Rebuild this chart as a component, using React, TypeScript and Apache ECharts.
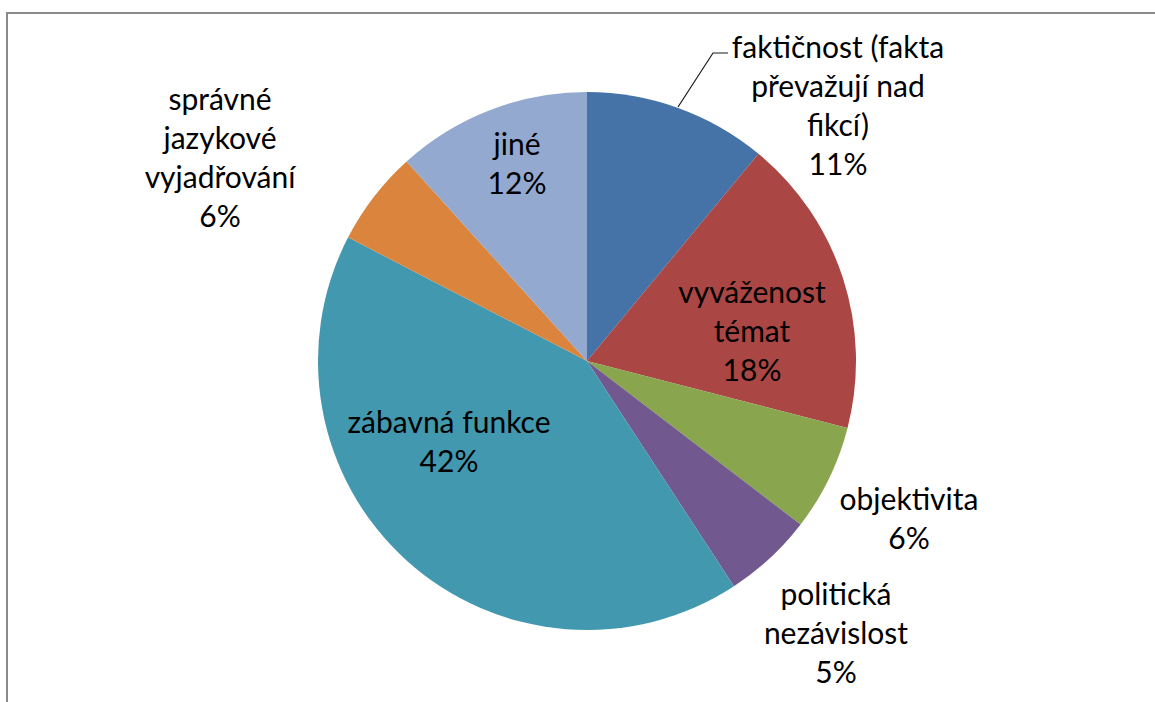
import React, { useEffect, useRef } from "react";
import * as echarts from "echarts";

const categories = [
  "faktičnost (fakta\npřevažují nad\nfikcí)",
  "vyváženost\ntémat",
  "objektivita",
  "politická\nnezávislost",
  "zábavná funkce",
  "správné\njazykové\nvyjadřování",
  "jiné",
];
const values = [11.0, 18.0, 6.4, 5.4, 41.8, 5.7, 11.7];
const colors = ["#4572A7", "#AA4643", "#89A54E", "#71588F", "#4198AF", "#DB843D", "#93A9CF"];
// label anchor positions (block centers) for each slice
const labelPos: [number, number][] = [
  [838, 104],
  [752, 330],
  [909, 517],
  [836, 632],
  [449, 440],
  [220, 156],
  [517, 162],
];
const leaderLine: number[][] = [
  [678, 107],
  [713, 53],
  [728, 53],
];

export default function App() {
  const ref = useRef<HTMLDivElement>(null);
  useEffect(() => {
    if (!ref.current) return;
    const chart = echarts.init(ref.current, undefined, { renderer: "svg" });
    const data = categories.map((name, i) => ({
      name,
      value: values[i],
      itemStyle: { color: colors[i] },
      labelLine: { show: i === 0 },
    }));
    chart.setOption({
      animation: false,
      graphic: [
        {
          type: "rect",
          shape: { x: 7, y: 13, width: 1300, height: 900 },
          style: { fill: "none", stroke: "#8a8a8a", lineWidth: 2 },
          silent: true,
        },
      ],
      series: [
        {
          type: "pie",
          center: [587, 361],
          radius: 269,
          startAngle: 90,
          clockwise: true,
          silent: true,
          data,
          itemStyle: { borderWidth: 0 },
          label: {
            show: true,
            position: "outside",
            formatter: (p: any) => `${p.name}\n${Math.round(p.value)}%`,
            fontFamily: "Lato",
            fontSize: 30,
            lineHeight: 39,
            color: "#000",
            align: "center",
          },
          labelLine: {
            show: true,
            lineStyle: { color: "#1a1a1a", width: 1.2 },
          },
          labelLayout: (params: any) => {
            const i = params.dataIndex;
            const res: any = {
              x: labelPos[i][0],
              y: labelPos[i][1],
              align: "center",
              verticalAlign: "middle",
            };
            if (i === 0) res.labelLinePoints = leaderLine;
            return res;
          },
        },
      ],
    });
    return () => chart.dispose();
  }, []);
  return (
    <div
      ref={ref}
      style={{ position: "fixed", left: 0, top: 0, width: 1155, height: 702, background: "#fff" }}
    />
  );
}
